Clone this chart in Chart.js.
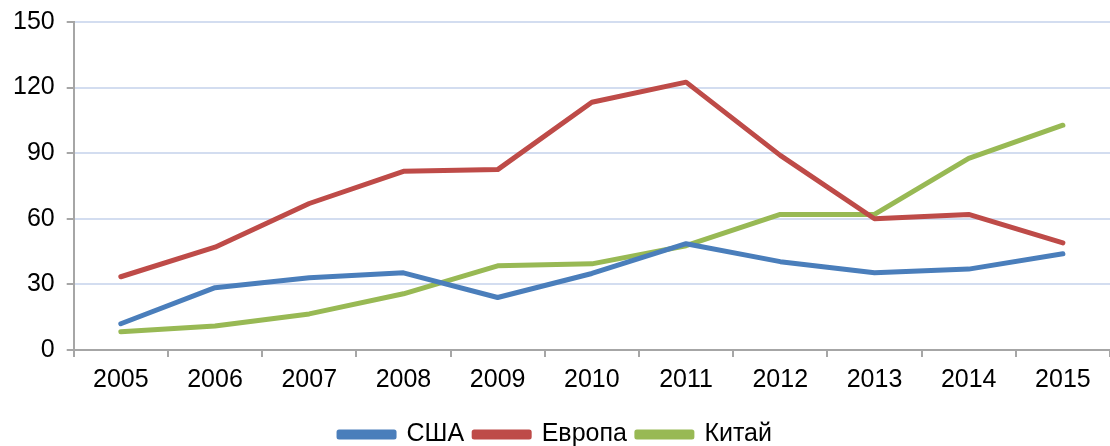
<!DOCTYPE html>
<html>
<head>
<meta charset="utf-8">
<script src="https://cdn.jsdelivr.net/npm/chart.js@4"></script>
<style>
  html, body { margin: 0; padding: 0; background: #fff; }
  #wrap { width: 1110px; height: 446px; position: relative; }
</style>
</head>
<body>
<div id="wrap"><canvas id="chart"></canvas></div>
<script>
const years = ["2005", "2006", "2007", "2008", "2009", "2010", "2011", "2012", "2013", "2014", "2015"];
const usa = [12, 28.5, 33, 35.3, 24, 35, 48.6, 40.4, 35.3, 37, 44];
const europe = [33.5, 47, 67, 81.7, 82.5, 113.3, 122.5, 89, 60, 62, 49];
const china = [8.3, 11, 16.5, 25.7, 38.5, 39.4, 47.7, 62, 62, 87.6, 102.8];
const yTicks = [0, 30, 60, 90, 120, 150];

const font = { family: "'Liberation Sans', Arial, sans-serif", size: 25 };

function series(label, data, color) {
  return {
    label: label,
    data: data,
    borderColor: color,
    backgroundColor: color,
    borderWidth: 5,
    borderCapStyle: "round",
    borderJoinStyle: "round",
    pointRadius: 0,
    tension: 0,
  };
}

// pull the legend a bit lower than Chart.js would put it
const legendShift = {
  id: "legendShift",
  beforeUpdate(chart) {
    const lg = chart.legend;
    if (!lg || lg._shifted) return;
    const fit = lg.fit;
    lg.fit = function () {
      fit.call(this);
      this.height -= 11;
    };
    lg._shifted = true;
  },
};

new Chart(document.getElementById("chart"), {
  type: "line",
  data: {
    labels: years,
    datasets: [
      series("США", usa, "#4a7ebb"),
      series("Европа", europe, "#be4b48"),
      series("Китай", china, "#98b954"),
    ],
  },
  options: {
    responsive: true,
    maintainAspectRatio: false,
    animation: false,
    layout: { padding: { top: 0, right: 0, left: 1, bottom: 0 } },
    plugins: {
      tooltip: { enabled: false },
      legend: {
        position: "bottom",
        labels: {
          font: font,
          color: "#000",
          boxWidth: 55,
          boxHeight: 5,
          padding: 10,
        },
      },
    },
    scales: {
      x: {
        offset: true,
        afterFit: (scale) => {
          scale.height += 9;
        },
        grid: {
          offset: true,
          drawOnChartArea: false,
          drawTicks: true,
          tickLength: 7,
          tickColor: "#a6a6a6",
          lineWidth: 2,
        },
        border: { color: "#a6a6a6", width: 2 },
        ticks: { font: font, color: "#000", padding: 8, maxRotation: 0 },
      },
      y: {
        min: 0,
        max: 150,
        afterBuildTicks: (axis) => {
          axis.ticks = yTicks.map((v) => ({ value: v }));
        },
        afterFit: (scale) => {
          scale.paddingTop = Math.max(0, scale.paddingTop - 5);
        },
        grid: {
          color: "#d3ddf0",
          lineWidth: 2,
          tickLength: 7,
          tickColor: "#a6a6a6",
        },
        border: { color: "#a6a6a6", width: 2 },
        ticks: { font: font, color: "#000", padding: 12 },
      },
    },
  },
  plugins: [legendShift],
});
</script>
</body>
</html>
